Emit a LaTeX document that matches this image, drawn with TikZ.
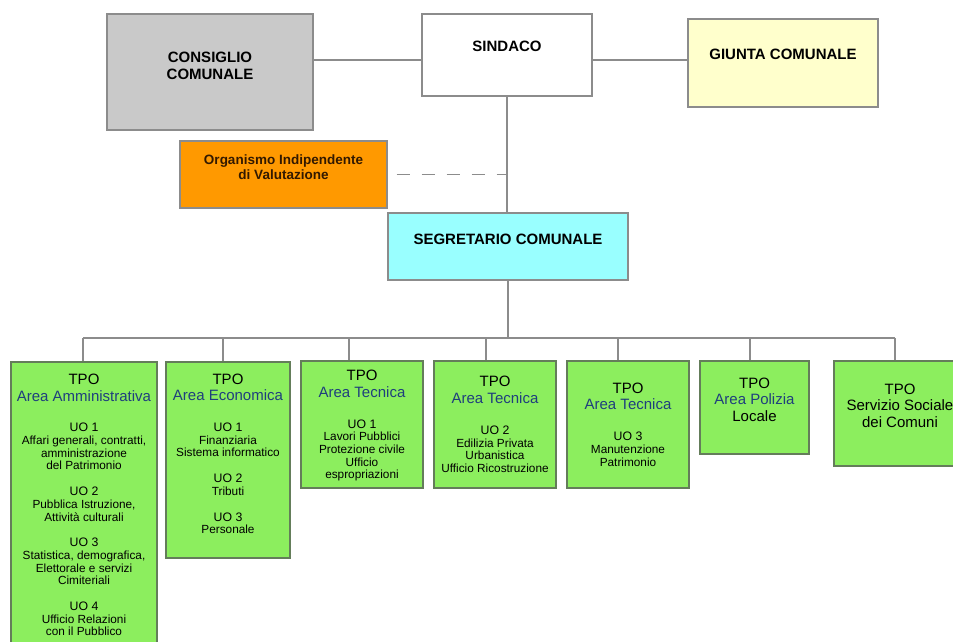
\documentclass[tikz,border=0pt]{standalone}
\usepackage{fontspec}
\setmainfont{Liberation Sans}
\usepackage{xcolor}

\definecolor{linegray}{RGB}{140,140,140}
\definecolor{boxgray}{RGB}{201,201,201}
\definecolor{giallino}{RGB}{255,255,204}
\definecolor{arancio}{RGB}{255,153,0}
\definecolor{ciano}{RGB}{153,255,255}
\definecolor{verde}{RGB}{140,238,94}
\definecolor{bordoverde}{RGB}{100,125,90}
\definecolor{blu}{RGB}{31,63,125}
\definecolor{marrone}{RGB}{50,25,0}

\newcommand{\uo}[1]{{\fontsize{12.3}{12.7}\selectfont #1}}
\newcommand{\tpo}[1]{{\fontsize{15}{15}\selectfont #1}}
\newcommand{\area}[1]{{\fontsize{15}{15}\selectfont\color{blu}#1}}

\begin{document}
\begin{tikzpicture}[x=1pt,y=-1pt,
    box/.style={rectangle,draw=linegray,line width=1.3pt,inner sep=0pt,align=center},
    top/.style={box,font=\fontsize{15}{17}\selectfont\bfseries},
    tpobox/.style={box,fill=verde,draw=bordoverde,font=\fontsize{11.8}{12.7}\selectfont},
    conn/.style={draw=linegray,line width=1.3pt}]
    \useasboundingbox (0,0) rectangle (953,641);
    % vertici
    \node[top,fill=boxgray,minimum width=206pt,minimum height=116pt,text depth=13pt] (consiglio) at (210,72) {CONSIGLIO\\COMUNALE};
    \node[top,fill=white,minimum width=170pt,minimum height=82pt,text depth=18pt] (sindaco) at (507,55) {SINDACO};
    \node[top,fill=giallino,minimum width=190pt,minimum height=88pt,text depth=18pt] (giunta) at (783,63) {GIUNTA COMUNALE};
    \node[top,fill=arancio,text=marrone,font=\fontsize{13.5}{15}\selectfont\bfseries,minimum width=207pt,minimum height=67pt,text depth=14pt] (oiv) at (283.5,174.5) {Organismo Indipendente\\di Valutazione};
    \node[top,fill=ciano,minimum width=240pt,minimum height=67pt,text depth=15pt] (segretario) at (508,246.5) {SEGRETARIO COMUNALE};
    % aree
    \node[tpobox,minimum width=146pt,minimum height=286pt] (tpoA) at (84,505) {\tpo{TPO}\\[4pt] \area{Area Amministrativa}\\[18pt]
        \uo{UO 1}\\ Affari generali, contratti,\\ amministrazione\\ del Patrimonio\\[13pt]
        \uo{UO 2}\\ Pubblica Istruzione,\\ Attività culturali\\[13pt]
        \uo{UO 3}\\ Statistica, demografica,\\ Elettorale e servizi\\ Cimiteriali\\[13pt]
        \uo{UO 4}\\ Ufficio Relazioni\\ con il Pubblico};
    \node[tpobox,minimum width=124pt,minimum height=196pt,text depth=12.6pt] (tpoB) at (228,460) {\tpo{TPO}\\[4pt] \area{Area Economica}\\[18pt]
        \uo{UO 1}\\ Finanziaria\\ Sistema informatico\\[13pt]
        \uo{UO 2}\\ Tributi\\[13pt]
        \uo{UO 3}\\ Personale};
    \node[tpobox,minimum width=122pt,minimum height=127pt,text depth=0pt] (tpoC) at (362,424.5) {\tpo{TPO}\\[4pt] \area{Area Tecnica}\\[18pt]
        \uo{UO 1}\\ Lavori Pubblici\\ Protezione civile\\ Ufficio\\ espropriazioni};
    \node[tpobox,minimum width=122pt,minimum height=127pt] (tpoD) at (495,424.5) {\tpo{TPO}\\[4pt] \area{Area Tecnica}\\[18pt]
        \uo{UO 2}\\ Edilizia Privata\\ Urbanistica\\ Ufficio Ricostruzione};
    \node[tpobox,minimum width=122pt,minimum height=127pt] (tpoE) at (628,424.5) {\tpo{TPO}\\[4pt] \area{Area Tecnica}\\[18pt]
        \uo{UO 3}\\ Manutenzione\\ Patrimonio};
    \node[tpobox,minimum width=109pt,minimum height=93pt,text depth=16pt] (tpoF) at (754.5,407.5) {\tpo{TPO}\\[4pt] \area{Area Polizia}\\[4pt] \tpo{Locale}};
    \node[tpobox,minimum width=132pt,minimum height=105pt,text depth=16pt] (tpoG) at (900,413.5) {\tpo{TPO}\\[4pt] \tpo{Servizio Sociale}\\[4pt] \tpo{dei Comuni}};
    % collegamenti
    \coordinate (hline) at (507,60);
    \draw[conn] (consiglio.east |- hline) -- (sindaco.west |- hline);
    \draw[conn] (sindaco.east |- hline) -- (giunta.west |- hline);
    \draw[conn] (sindaco.south) -- (sindaco.south |- segretario.north);
    \draw[conn,dash pattern=on 13pt off 12pt] ([xshift=9pt]oiv.east) -- (oiv.east -| sindaco.south);
    \foreach \n/\x in {A/83,B/223,C/349,D/486,E/618,F/750,G/895} % edit here for the drops
    {\coordinate (d\n) at (\x,338);
     \draw[conn] (d\n) -- (d\n |- tpo\n.north);}
    \draw[conn] (dA) -- (dG);
    \draw[conn] (segretario.south) -- (segretario.south |- dA);
\end{tikzpicture}
\end{document}
